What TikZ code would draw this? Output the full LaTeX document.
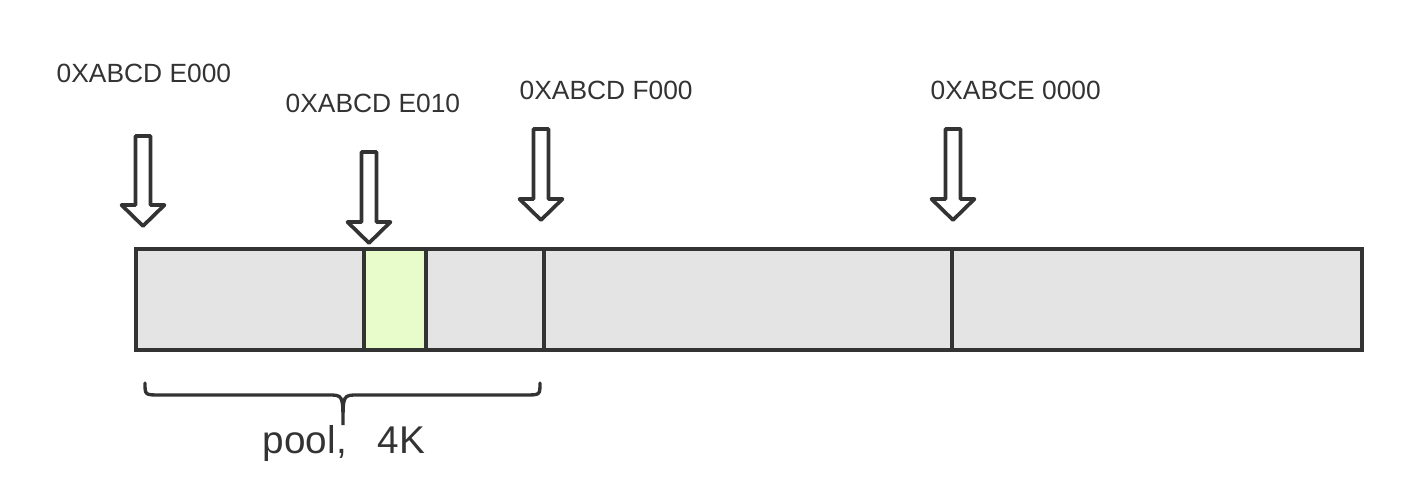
\documentclass[tikz,border=0pt]{standalone}
\usepackage{fontspec}
\setmainfont{Liberation Sans}
\usetikzlibrary{positioning}
\definecolor{ink}{HTML}{333333}
\definecolor{slot}{HTML}{E4E4E4}
\definecolor{leaf}{HTML}{E7FBCB}
\tikzset{
  cell/.style={draw=ink,fill=slot,line width=1.05pt},
  poolcell/.style={cell,fill=leaf},
  hollow/.style={draw=ink,fill=white,line width=1.05pt,line join=round},
  addr/.style={font=\fontsize{7.5}{9}\selectfont,text=ink,anchor=base west,inner sep=0pt},
}
\newcommand{\addrarrow}[3]{% centre x, shaft top, tip
  \draw[hollow] (#1-7.5,#2) -- (#1+7.5,#2) -- (#1+7.5,#3-21) -- (#1+21.5,#3-21) -- (#1,#3)
    -- (#1-21.5,#3-21) -- (#1-7.5,#3-21) -- cycle;}

\begin{document}
\begin{tikzpicture}[x=0.01cm,y=-0.01cm]
  \useasboundingbox (0,0) rectangle (1426,494);
  % memory bar
  \draw[cell] (136,249) rectangle (1362,350);
  \draw[poolcell] (364,249) rectangle (426,350);
  \foreach \x in {544,952}
    \draw[cell] (\x,249) -- (\x,350);
  % addresses
  \node[addr] (e000) at (56,82) {0XABCD E000};
  \node[addr] (e010) at (285,113) {0XABCD E010};
  \node[addr] (f000) at (519,99) {0XABCD F000};
  \node[addr] (ce00) at (930,99) {0XABCE 0000};
  \addrarrow{143}{136}{226}
  \addrarrow{369}{152}{243}
  \addrarrow{541}{129}{220}
  \addrarrow{953}{129}{220}
  % pool brace
  \draw[ink,line width=0.95pt,line cap=round]
    (145,383) .. controls (145,395) .. (160,395) -- (328,395)
    .. controls (343,395) .. (343,425) .. controls (343,395) .. (358,395)
    -- (525,395) .. controls (540,395) .. (540,383);
  \node[font=\fontsize{11}{13}\selectfont,text=ink] (pool) at (344,443) {pool,\hspace{0.8em}4K};
\end{tikzpicture}
\end{document}
